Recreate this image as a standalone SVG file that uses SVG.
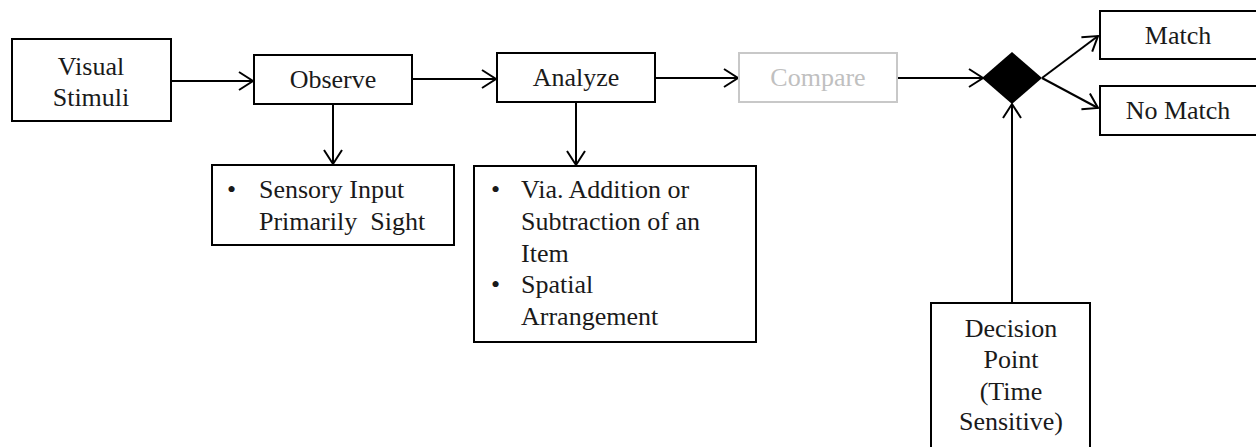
<svg xmlns="http://www.w3.org/2000/svg" width="1256" height="447" viewBox="0 0 1256 447">
<style>
.box{fill:#fff;stroke:#000;stroke-width:2}
.gbox{fill:#fff;stroke:#c8c8c8;stroke-width:2}
text{font-family:'Liberation Serif','Times New Roman',Tinos,serif;font-size:26px;fill:#1a1a1a}
.c{text-anchor:middle}
.g{fill:#c0c0c0}
.ln{stroke:#000;stroke-width:2;fill:none;marker-end:url(#ah)}
</style>
<defs>
<marker id="ah" markerUnits="userSpaceOnUse" markerWidth="18" markerHeight="22" refX="15" refY="10" orient="auto">
<path d="M1,1 L15,10 L1,19" fill="none" stroke="#000" stroke-width="2"/>
</marker>
</defs>
<rect width="1256" height="447" fill="#fff"/>
<g id="connectors">
<line class="ln" x1="171" y1="81" x2="253" y2="81"/>
<line class="ln" x1="412" y1="79" x2="496" y2="79"/>
<line class="ln" x1="333" y1="104" x2="333" y2="164"/>
<line class="ln" x1="655" y1="78" x2="738" y2="78"/>
<line class="ln" x1="576" y1="102" x2="576" y2="165"/>
<line class="ln" x1="897" y1="78" x2="983" y2="78"/>
<line class="ln" x1="1042" y1="78" x2="1098" y2="36"/>
<line class="ln" x1="1042" y1="78" x2="1098" y2="108"/>
<line class="ln" x1="1012" y1="303" x2="1012" y2="104"/>
</g>
<g id="visual-stimuli">
<rect class="box" x="12" y="39" width="159" height="82"/>
<text class="c" x="91" y="75">Visual</text>
<text class="c" x="91" y="106">Stimuli</text>
</g>
<g id="observe">
<rect class="box" x="254" y="55" width="158" height="49"/>
<text class="c" x="333" y="88">Observe</text>
</g>
<g id="sensory">
<rect class="box" x="212" y="165" width="242" height="80"/>
<text x="227" y="198">•</text>
<text x="259" y="198">Sensory Input</text>
<text x="259" y="230" xml:space="preserve">Primarily  Sight</text>
</g>
<g id="analyze">
<rect class="box" x="497" y="53" width="158" height="49"/>
<text class="c" x="576" y="86">Analyze</text>
</g>
<g id="analyze-detail">
<rect class="box" x="474" y="166" width="282" height="176"/>
<text x="491" y="198">•</text>
<text x="521" y="198">Via. Addition or</text>
<text x="521" y="230">Subtraction of an</text>
<text x="521" y="262">Item</text>
<text x="491" y="293">•</text>
<text x="521" y="293">Spatial</text>
<text x="521" y="325">Arrangement</text>
</g>
<g id="compare">
<rect class="gbox" x="739" y="53" width="158" height="49"/>
<text class="c g" x="818" y="86">Compare</text>
</g>
<g id="decision">
<polygon points="1012,52 1042,78 1012,104 982,78" fill="#000"/>
</g>
<g id="match">
<rect class="box" x="1100" y="11" width="170" height="48"/>
<text class="c" x="1178" y="44">Match</text>
</g>
<g id="no-match">
<rect class="box" x="1100" y="86" width="170" height="49"/>
<text class="c" x="1178" y="119">No Match</text>
</g>
<g id="decision-point">
<rect class="box" x="931" y="303" width="159" height="160"/>
<text class="c" x="1011" y="337">Decision</text>
<text class="c" x="1011" y="368">Point</text>
<text class="c" x="1011" y="400">(Time</text>
<text class="c" x="1011" y="430">Sensitive)</text>
</g>
</svg>
